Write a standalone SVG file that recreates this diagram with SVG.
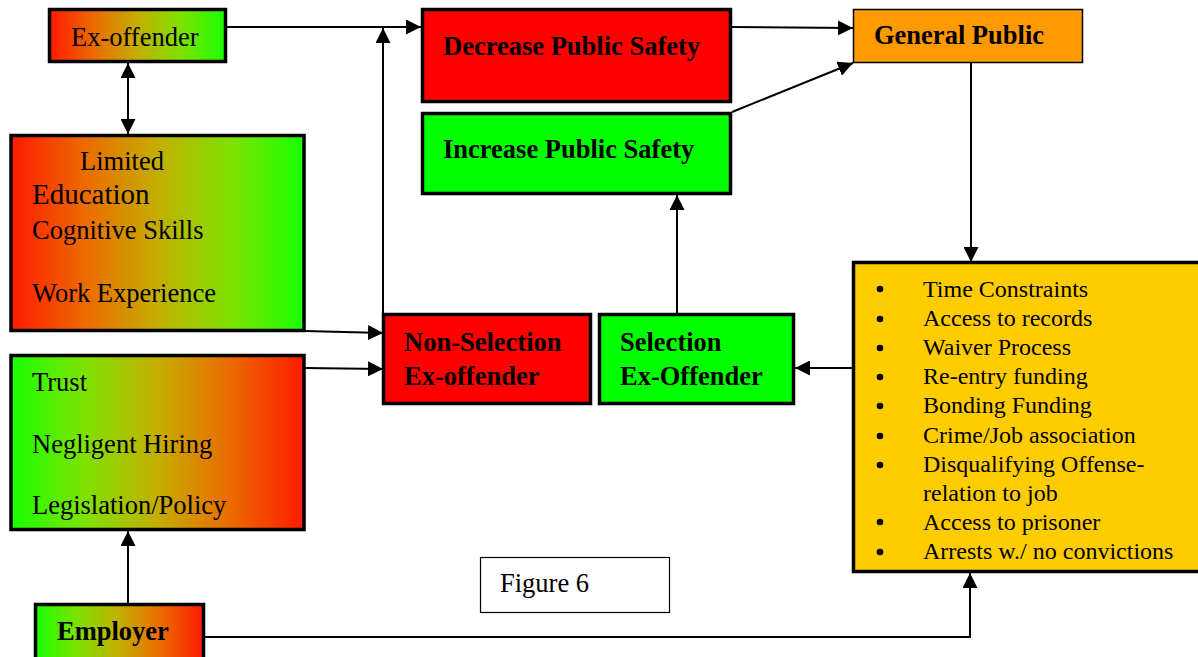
<svg xmlns="http://www.w3.org/2000/svg" width="1198" height="657" viewBox="0 0 1198 657">
<defs>
<linearGradient id="rg" x1="0" y1="0" x2="1" y2="0">
<stop offset="0" stop-color="#ff1a00"/>
<stop offset="0.25" stop-color="#ec6a00"/>
<stop offset="0.5" stop-color="#c4ae00"/>
<stop offset="0.75" stop-color="#7ee200"/>
<stop offset="1" stop-color="#18ff00"/>
</linearGradient>
<linearGradient id="gr" x1="0" y1="0" x2="1" y2="0">
<stop offset="0" stop-color="#18ff00"/>
<stop offset="0.25" stop-color="#7ee200"/>
<stop offset="0.5" stop-color="#c4ae00"/>
<stop offset="0.75" stop-color="#ec6a00"/>
<stop offset="1" stop-color="#ff1a00"/>
</linearGradient>
<marker id="ah" markerUnits="userSpaceOnUse" markerWidth="15" markerHeight="15" refX="15" refY="7.5" orient="auto-start-reverse">
<path d="M0,0 L15,7.5 L0,15 z" fill="#000"/>
</marker>
</defs>
<style>
.box{stroke:#000;stroke-width:3.5}
.thin{stroke:#000;stroke-width:1.5}
.t{font-family:"Liberation Serif","Times New Roman",serif;font-size:26.5px;fill:#000}
.b{font-weight:bold}
.y{font-family:"Liberation Serif","Times New Roman",serif;font-size:24px;fill:#000}
.c{fill:none;stroke:#000;stroke-width:2}
</style>

<g id="connectors">
<line class="c" x1="227" y1="27" x2="421" y2="27" marker-end="url(#ah)"/>
<line class="c" x1="383" y1="313" x2="383" y2="28" stroke-width="2.5" marker-end="url(#ah)"/>
<line class="c" x1="128" y1="63" x2="128" y2="134" stroke-width="2.5" marker-start="url(#ah)" marker-end="url(#ah)"/>
<line class="c" x1="732" y1="27" x2="853" y2="28" marker-end="url(#ah)"/>
<line class="c" x1="732" y1="112" x2="853" y2="63" marker-end="url(#ah)"/>
<line class="c" x1="971" y1="63" x2="971" y2="262" marker-end="url(#ah)"/>
<line class="c" x1="305" y1="331" x2="383" y2="333" marker-end="url(#ah)"/>
<line class="c" x1="305" y1="368" x2="383" y2="369" marker-end="url(#ah)"/>
<line class="c" x1="853" y1="368" x2="795" y2="368" marker-end="url(#ah)"/>
<line class="c" x1="677" y1="313" x2="677" y2="195" marker-end="url(#ah)"/>
<line class="c" x1="128" y1="603" x2="128" y2="531" marker-end="url(#ah)"/>
<polyline class="c" points="205,637 970,637 970,573" marker-end="url(#ah)"/>
</g>

<g id="ex-offender">
<rect class="box" x="49.5" y="9.5" width="176" height="52" fill="url(#rg)"/>
<text class="t" x="71" y="46">Ex-offender</text>
</g>

<g id="decrease">
<rect class="box" x="422.5" y="9.5" width="308" height="92" fill="#ff0000"/>
<text class="t b" x="443" y="55">Decrease Public Safety</text>
</g>

<g id="increase">
<rect class="box" x="422.5" y="113.5" width="308" height="80" fill="#00ff00"/>
<text class="t b" x="443" y="158">Increase Public Safety</text>
</g>

<g id="general-public">
<rect class="thin" x="853.5" y="9.5" width="229" height="53" fill="#ff9900"/>
<text class="t b" x="874" y="44">General Public</text>
</g>

<g id="limited">
<rect class="box" x="11" y="135.5" width="293" height="195" fill="url(#rg)"/>
<text class="t" x="80" y="170">Limited</text>
<text class="t" x="32" y="204" style="font-size:29px">Education</text>
<text class="t" x="32" y="239">Cognitive Skills</text>
<text class="t" x="32" y="302">Work Experience</text>
</g>

<g id="trust">
<rect class="box" x="11" y="355.5" width="293" height="174" fill="url(#gr)"/>
<text class="t" x="32" y="391">Trust</text>
<text class="t" x="32" y="453">Negligent Hiring</text>
<text class="t" x="32" y="514">Legislation/Policy</text>
</g>

<g id="employer">
<rect class="box" x="35.5" y="604.5" width="168" height="60" fill="url(#gr)"/>
<text class="t b" x="57" y="640">Employer</text>
</g>

<g id="non-selection">
<rect class="box" x="383.5" y="314.5" width="207" height="89" fill="#ff0000"/>
<text class="t b" x="404" y="351">Non-Selection</text>
<text class="t b" x="404" y="385">Ex-offender</text>
</g>

<g id="selection">
<rect class="box" x="599.5" y="314.5" width="194" height="89" fill="#00ff00"/>
<text class="t b" x="620" y="351">Selection</text>
<text class="t b" x="620" y="385">Ex-Offender</text>
</g>

<g id="barriers">
<rect class="box" x="853.5" y="262.5" width="400" height="309" fill="#ffcc00"/>
<g fill="#000">
<circle cx="880" cy="289" r="3.3"/>
<circle cx="880" cy="319" r="3.3"/>
<circle cx="880" cy="348" r="3.3"/>
<circle cx="880" cy="377" r="3.3"/>
<circle cx="880" cy="406" r="3.3"/>
<circle cx="880" cy="436" r="3.3"/>
<circle cx="880" cy="465" r="3.3"/>
<circle cx="880" cy="522" r="3.3"/>
<circle cx="880" cy="552" r="3.3"/>
</g>
<text class="y" x="923" y="297">Time Constraints</text>
<text class="y" x="923" y="326">Access to records</text>
<text class="y" x="923" y="355">Waiver Process</text>
<text class="y" x="923" y="384">Re-entry funding</text>
<text class="y" x="923" y="413">Bonding Funding</text>
<text class="y" x="923" y="443">Crime/Job association</text>
<text class="y" x="923" y="472">Disqualifying Offense-</text>
<text class="y" x="923" y="501">relation to job</text>
<text class="y" x="923" y="530">Access to prisoner</text>
<text class="y" x="923" y="559">Arrests w./ no convictions</text>
</g>

<g id="figure-label">
<rect x="480.5" y="557.5" width="189" height="55" fill="#fff" stroke="#000" stroke-width="1.2"/>
<text class="t" x="500" y="592">Figure 6</text>
</g>
</svg>
